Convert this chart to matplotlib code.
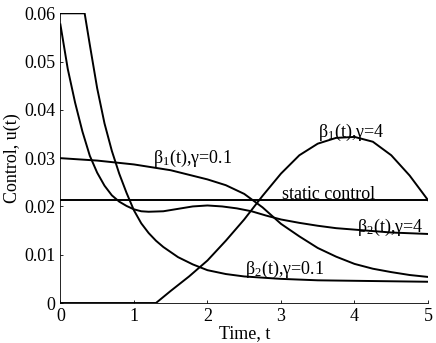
import numpy as np
import matplotlib
matplotlib.use('Agg')
import matplotlib.pyplot as plt

plt.rcParams['font.family'] = ['Liberation Serif', 'DejaVu Serif']
plt.rcParams['mathtext.fontset'] = 'custom'
plt.rcParams['mathtext.rm'] = 'Liberation Serif'
plt.rcParams['mathtext.it'] = 'Liberation Serif:italic'

# values
t_b1_g01 = [0, 0.5, 1, 1.5, 2, 2.25, 2.5, 2.75, 3, 3.25, 3.5, 3.75, 4, 4.25, 4.5, 4.75, 5]
u_b1_g01 = [0.0300, 0.0295, 0.0287, 0.0275, 0.0256, 0.0244, 0.0226, 0.0198, 0.0164,
            0.0138, 0.0114, 0.0096, 0.0081, 0.0071, 0.0064, 0.0058, 0.0054]

t_b1_g4 = [0, 1.3, 1.5, 1.75, 2, 2.25, 2.5, 2.75, 3, 3.25, 3.5, 3.75, 4, 4.25, 4.5, 4.75, 5]
u_b1_g4 = [0, 0, 0.0025, 0.0055, 0.0088, 0.0129, 0.0173, 0.0222, 0.0268, 0.0306,
           0.0330, 0.0342, 0.0344, 0.0334, 0.0306, 0.0264, 0.0213]

t_b2_g4 = [0, 0.1, 0.2, 0.3, 0.4, 0.5, 0.6, 0.7, 0.8, 0.9, 1.0, 1.1, 1.2, 1.4, 1.6, 1.8,
           2.0, 2.2, 2.4, 2.6, 2.8, 3.0, 3.25, 3.5, 3.75, 4, 4.5, 5]
u_b2_g4 = [0.0577, 0.0485, 0.0415, 0.0355, 0.0305, 0.0270, 0.0243, 0.0223, 0.0210, 0.0201,
           0.0194, 0.0190, 0.0189, 0.0190, 0.0195, 0.0200, 0.0202, 0.0200, 0.0196, 0.0190,
           0.0181, 0.0173, 0.0166, 0.0160, 0.0155, 0.0152, 0.0146, 0.0143]

t_b2_g01 = [0, 0.33, 0.4, 0.5, 0.6, 0.7, 0.8, 0.9, 1.0, 1.1, 1.2, 1.3, 1.4, 1.6, 1.8, 2.0,
            2.25, 2.5, 3, 3.5, 4, 4.5, 5]
u_b2_g01 = [0.06, 0.06, 0.0535, 0.0445, 0.0372, 0.0315, 0.0268, 0.0228, 0.0192, 0.0165,
            0.0145, 0.0129, 0.0116, 0.0095, 0.0080, 0.0068, 0.0060, 0.0055, 0.0050, 0.0047,
            0.0046, 0.0045, 0.0044]

t_static = [0, 5]
u_static = [0.0213, 0.0213]

fig = plt.figure(figsize=(4.36, 3.43), dpi=100)
ax = fig.add_axes([0.1385, 0.1166, 0.8432, 0.8446])

for t, u in [(t_b1_g01, u_b1_g01), (t_b1_g4, u_b1_g4), (t_b2_g4, u_b2_g4),
             (t_b2_g01, u_b2_g01), (t_static, u_static)]:
    ax.plot(t, u, color='black', lw=1.4)

ax.set_xlim(0, 5)
ax.set_ylim(0, 0.06)
ax.set_xticks([0, 1, 2, 3, 4, 5])
ax.set_yticks([0, 0.01, 0.02, 0.03, 0.04, 0.05, 0.06])
ax.set_yticklabels(['0', '0.01', '0.02', '0.03', '0.04', '0.05', '0.06'])
ax.spines['top'].set_visible(False)
ax.spines['right'].set_visible(False)
ax.spines['left'].set_linewidth(0.6)
ax.spines['bottom'].set_linewidth(0.6)
ax.tick_params(direction='in', length=2.5, width=0.6, labelsize=13, pad=3.5)
ax.set_xlabel('Time, t', fontsize=13, labelpad=0)
ax.set_ylabel('Control, u(t)', fontsize=13, labelpad=2)

# curve labels
fs = 13
ax.text(1.26, 0.0290, r'β$_1$(t),γ=0.1', fontsize=fs)
ax.text(3.50, 0.0343, r'β$_1$(t),γ=4', fontsize=fs)
ax.text(3.01, 0.0215, 'static control', fontsize=fs)
ax.text(4.03, 0.0148, r'β$_2$(t),γ=4', fontsize=fs)
ax.text(2.51, 0.0060, r'β$_2$(t),γ=0.1', fontsize=fs)

fig.savefig('out.png', dpi=100)
